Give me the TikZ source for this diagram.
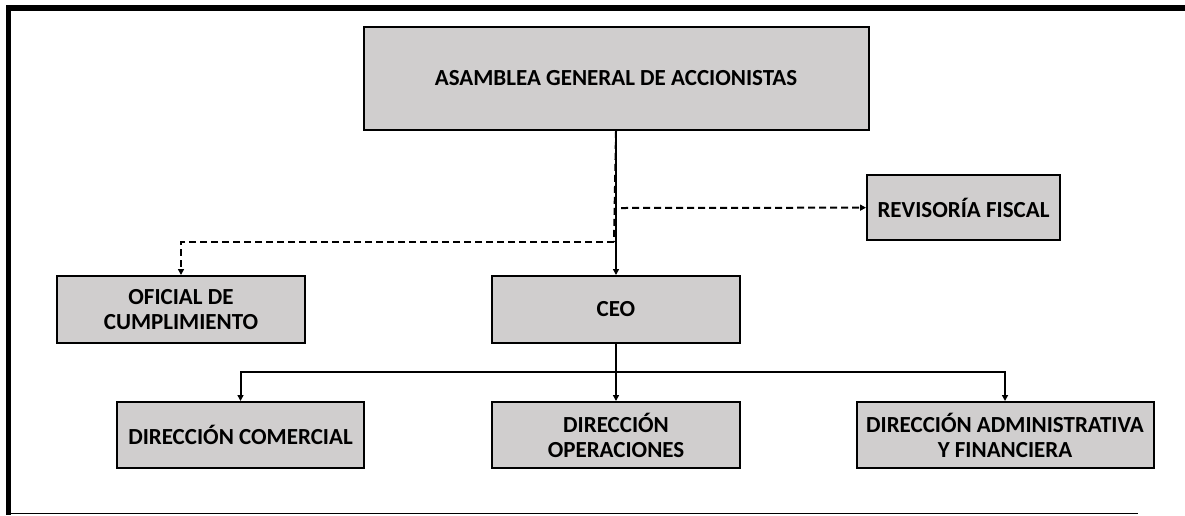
\documentclass[tikz,border=0pt]{standalone}
\usepackage{fontspec}
\setmainfont{Carlito}
\usetikzlibrary{arrows.meta}
\definecolor{boxgray}{HTML}{D0CECE}

\begin{document}
\begin{tikzpicture}[x=1pt,y=-1pt,
    box/.style={draw=black,fill=boxgray,line width=2pt,align=center,inner sep=2pt,
      font=\fontsize{23}{25}\selectfont\bfseries},
    every path/.style={line width=2pt},
    >={Triangle[length=6pt,width=6pt]},
    dashes/.style={dash pattern=on 7pt off 4pt}]

      \useasboundingbox (0,0) rectangle (1185,515);
      \draw[line width=5.5pt] (1185,8) -- (8.5,8) -- (8.5,515);
      \draw[line width=1.5pt] (8.5,513.5) -- (1138,513.5);

      \node[box,minimum width=505pt,minimum height=103pt] (a) at (616,78.5){ASAMBLEA GENERAL DE ACCIONISTAS};
      \node[box,minimum width=193pt,minimum height=65pt] (r) at (963.5,207.5){REVISORÍA FISCAL};
      \node[box,minimum width=248pt,minimum height=67pt] (o) at (181,309.5){OFICIAL DE\\CUMPLIMIENTO};
      \node[box,minimum width=248pt,minimum height=67pt] (c) at (616,309.5){CEO};
      
      \node[box,minimum width=247pt,minimum height=66pt] (d) at (240.5,435){DIRECCIÓN COMERCIAL};
      \node[box,minimum width=248pt,minimum height=66pt] (e) at (616,435){DIRECCIÓN\\OPERACIONES};
      \node[box,minimum width=297pt,minimum height=66pt] (f) at (1005,435){DIRECCIÓN ADMINISTRATIVA\\Y FINANCIERA};
      
      \coordinate (s) at (621,208);
      \coordinate (t) at (614,242);
      \coordinate (u) at (616,372);
      
      \draw[dashes] (a.south) -- (t);
      \draw[dashes,->] (t) -| (o);
      \draw[dashes,->] (s) -- (r);
      \draw[->] (a) -- (c);
      \draw[->] (c) -- (e);
      \draw[->] (u) -| (d);
      \draw[->] (u) -| (f);
    \end{tikzpicture}
\end{document}
